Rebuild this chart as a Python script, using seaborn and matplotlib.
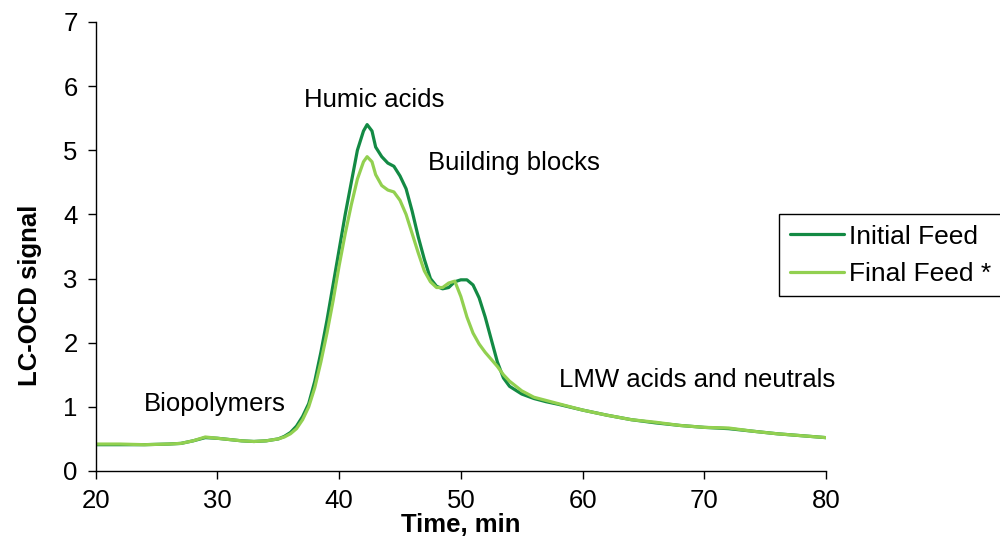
import numpy as np
import pandas as pd
import matplotlib
matplotlib.use("Agg")
import matplotlib.pyplot as plt
import seaborn as sns

# Elution time (min) and LC-OCD response for the two feeds
time_min = [20, 22, 24, 26, 27, 28, 29, 30, 31, 32, 33, 34, 35, 35.5, 36, 36.5,
            37, 37.5, 38, 38.5, 39, 39.5, 40, 40.5, 41, 41.5, 42, 42.3, 42.7, 43,
            43.5, 44, 44.5, 45, 45.5, 46, 46.5, 47, 47.5, 48, 48.5, 49, 49.5, 50,
            50.5, 51, 51.5, 52, 52.5, 53, 53.5, 54, 55, 56, 57, 58, 60, 62, 64,
            66, 68, 70, 72, 74, 76, 78, 80]

initial_feed = [0.41, 0.41, 0.41, 0.42, 0.43, 0.47, 0.52, 0.51, 0.49, 0.47, 0.46,
                0.47, 0.50, 0.54, 0.60, 0.70, 0.85, 1.05, 1.40, 1.85, 2.35, 2.90,
                3.45, 4.00, 4.50, 5.00, 5.30, 5.40, 5.30, 5.05, 4.90, 4.80, 4.75,
                4.60, 4.40, 4.05, 3.65, 3.30, 3.00, 2.88, 2.84, 2.86, 2.95, 2.98,
                2.98, 2.90, 2.70, 2.40, 2.05, 1.70, 1.45, 1.32, 1.20, 1.13, 1.08,
                1.04, 0.95, 0.87, 0.80, 0.75, 0.71, 0.68, 0.66, 0.62, 0.58, 0.55,
                0.52]

final_feed = [0.42, 0.42, 0.41, 0.42, 0.43, 0.47, 0.53, 0.51, 0.49, 0.47, 0.46,
              0.47, 0.50, 0.53, 0.58, 0.66, 0.80, 1.00, 1.30, 1.70, 2.15, 2.65,
              3.20, 3.70, 4.15, 4.55, 4.82, 4.90, 4.82, 4.62, 4.45, 4.38, 4.35,
              4.22, 4.00, 3.70, 3.40, 3.12, 2.95, 2.86, 2.86, 2.93, 2.96, 2.72,
              2.40, 2.15, 1.98, 1.85, 1.74, 1.63, 1.50, 1.40, 1.25, 1.15, 1.10,
              1.05, 0.95, 0.87, 0.80, 0.76, 0.71, 0.68, 0.67, 0.62, 0.58, 0.55,
              0.52]

series_names = ["Initial Feed", "Final Feed *"]
series_colors = ["#138a44", "#92d050"]

fraction_labels = ["Humic acids", "Building blocks", "Biopolymers", "LMW acids and neutrals"]

df = pd.concat([
    pd.DataFrame({"Time": time_min, "Signal": initial_feed, "Sample": series_names[0]}),
    pd.DataFrame({"Time": time_min, "Signal": final_feed, "Sample": series_names[1]}),
], ignore_index=True)

sns.set_theme(style="ticks")
plt.rcParams["font.family"] = ["Liberation Sans", "DejaVu Sans"]
plt.rcParams["text.color"] = "black"
plt.rcParams["axes.labelcolor"] = "black"

FS = 18.5

fig = plt.figure(figsize=(10, 5.45), dpi=100)
ax = fig.add_axes([0.0957, 0.1358, 0.7303, 0.8239])

sns.lineplot(data=df, x="Time", y="Signal", hue="Sample",
             palette=dict(zip(series_names, series_colors)),
             linewidth=2.3, ax=ax, legend=False)

ax.set_xlim(20, 80)
ax.set_ylim(0, 7)
ax.set_xticks(np.arange(20, 81, 10))
ax.set_yticks(np.arange(0, 8, 1))
ax.tick_params(axis="both", labelsize=FS, length=6, width=1, color="black",
               labelcolor="black", direction="out", pad=7)
for side in ("top", "right"):
    ax.spines[side].set_visible(False)
for side in ("left", "bottom"):
    ax.spines[side].set_color("black")
    ax.spines[side].set_linewidth(1)

ax.set_xlabel("Time, min", fontsize=FS, fontweight="bold", labelpad=0)
ax.set_ylabel("LC-OCD signal", fontsize=FS, fontweight="bold")
ax.yaxis.set_label_coords(-0.074, 0.392)

# Fraction labels
ax.text(42.86, 5.68, fraction_labels[0], fontsize=FS, ha="center", va="baseline")
ax.text(54.37, 4.70, fraction_labels[1], fontsize=FS, ha="center", va="baseline")
ax.text(29.78, 0.94, fraction_labels[2], fontsize=FS, ha="center", va="baseline")
ax.text(69.4, 1.315, fraction_labels[3], fontsize=FS, ha="center", va="baseline")

handles = [plt.Line2D([], [], color=c, linewidth=2.3) for c in series_colors]
leg = ax.legend(handles, series_names, loc="upper left",
                bbox_to_anchor=(0.936, 0.572), fontsize=19, frameon=True,
                fancybox=False, edgecolor="black", handlelength=2.05,
                handletextpad=0.2, borderpad=0.4, labelspacing=0.5,
                borderaxespad=0)
leg.get_frame().set_linewidth(1)
leg.get_frame().set_alpha(1)

fig.savefig("out.png", dpi=100)
